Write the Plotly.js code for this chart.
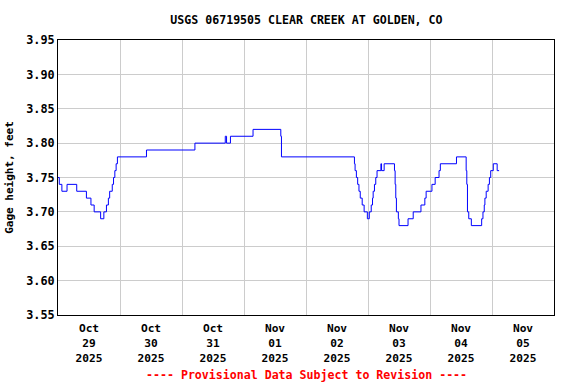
<!DOCTYPE html>
<html>
<head>
<meta charset="utf-8">
<script src="https://cdn.plot.ly/plotly-3.0.1.min.js"></script>
<style>html,body{margin:0;padding:0;background:#fff;}#chart{width:576px;height:384px;}</style>
</head>
<body>
<div id="chart"></div>
<script>
// Gage height readings (step changes), USGS 06719505 Clear Creek at Golden, CO
var times = [
  "2025-10-29 00:00","2025-10-29 00:30","2025-10-29 01:30","2025-10-29 03:30","2025-10-29 07:15",
  "2025-10-29 11:00","2025-10-29 12:45","2025-10-29 14:00","2025-10-29 16:30","2025-10-29 17:45",
  "2025-10-29 18:45","2025-10-29 19:30","2025-10-29 20:00","2025-10-29 21:00","2025-10-29 21:30",
  "2025-10-29 22:00","2025-10-29 22:30","2025-10-29 23:00","2025-10-30 10:15","2025-10-31 05:00",
  "2025-10-31 16:45","2025-10-31 17:15","2025-10-31 18:45","2025-11-01 03:30","2025-11-01 14:15",
  "2025-11-01 14:30","2025-11-02 18:45","2025-11-02 19:00","2025-11-02 19:30","2025-11-02 20:00",
  "2025-11-02 20:30","2025-11-02 21:00","2025-11-02 21:45","2025-11-02 22:30","2025-11-02 23:45",
  "2025-11-03 00:30","2025-11-03 01:15","2025-11-03 01:45","2025-11-03 02:00","2025-11-03 02:30",
  "2025-11-03 03:00","2025-11-03 03:30","2025-11-03 05:00","2025-11-03 05:15","2025-11-03 06:15",
  "2025-11-03 10:15","2025-11-03 10:30","2025-11-03 10:45","2025-11-03 11:00","2025-11-03 11:45",
  "2025-11-03 12:00","2025-11-03 15:30","2025-11-03 17:30","2025-11-03 20:30","2025-11-03 22:00",
  "2025-11-03 22:30","2025-11-04 00:45","2025-11-04 02:00","2025-11-04 03:30","2025-11-04 04:00",
  "2025-11-04 10:15","2025-11-04 14:00","2025-11-04 14:15","2025-11-04 14:30","2025-11-04 15:00",
  "2025-11-04 16:00","2025-11-04 20:00","2025-11-04 20:30","2025-11-04 21:00","2025-11-04 21:15",
  "2025-11-04 21:45","2025-11-04 22:30","2025-11-04 23:00","2025-11-04 23:30","2025-11-05 00:30",
  "2025-11-05 02:00","2025-11-05 02:45"
];
var gageHeight = [
  3.75,3.74,3.73,3.74,3.73,
  3.72,3.71,3.70,3.69,3.70,
  3.71,3.72,3.73,3.74,3.75,
  3.76,3.77,3.78,3.79,3.80,
  3.81,3.80,3.81,3.82,3.81,
  3.78,3.77,3.76,3.75,3.74,
  3.73,3.72,3.71,3.70,3.69,
  3.70,3.71,3.72,3.73,3.74,
  3.75,3.76,3.77,3.76,3.77,
  3.76,3.74,3.72,3.70,3.69,
  3.68,3.69,3.70,3.71,3.72,
  3.73,3.74,3.75,3.76,3.77,
  3.78,3.76,3.74,3.70,3.69,
  3.68,3.69,3.70,3.71,3.72,
  3.73,3.74,3.75,3.76,3.77,
  3.76,3.76
];
var yTickVals = [3.55,3.60,3.65,3.70,3.75,3.80,3.85,3.90,3.95];
var yTickText = ["3.55","3.60","3.65","3.70","3.75","3.80","3.85","3.90","3.95"];
var chartTitle = "USGS 06719505 CLEAR CREEK AT GOLDEN, CO";
var yTitle = "Gage height, feet";
var footer = "---- Provisional Data Subject to Revision ----";

var mono = "DejaVu Sans Mono, Liberation Mono, monospace";

var trace = {
  x: times, y: gageHeight, type: "scatter", mode: "lines",
  line: {color: "#0000ff", width: 1, shape: "hv"},
  hoverinfo: "skip"
};

var layout = {
  width: 576, height: 384,
  margin: {l: 58, r: 22, t: 40, b: 69},
  paper_bgcolor: "#ffffff", plot_bgcolor: "#ffffff",
  showlegend: false,
  font: {family: mono, size: 11, color: "#000"},
  title: {text: chartTitle, font: {family: mono, size: 11.6, weight: "bold", color: "#000"},
          x: 0.532, xanchor: "center", y: 0.949, yref: "container", yanchor: "middle"},
  xaxis: {
    type: "date", range: ["2025-10-29 00:00", "2025-11-06 00:00"],
    tick0: "2025-10-29", dtick: 86400000, ticklabelmode: "period",
    tickformat: "%b<br>%d<br>%Y",
    showgrid: true, gridcolor: "#cccccc", gridwidth: 1,
    showline: true, linecolor: "#000", linewidth: 1, mirror: true,
    ticks: "", zeroline: false, ticklabelstandoff: 3,
    tickfont: {family: mono, size: 11.2, weight: "bold", color: "#000"}
  },
  yaxis: {
    range: [3.55, 3.95], tickvals: yTickVals, ticktext: yTickText,
    showgrid: true, gridcolor: "#cccccc", gridwidth: 1,
    showline: true, linecolor: "#000", linewidth: 1, mirror: true,
    ticks: "", zeroline: false, ticklen: 0,
    tickfont: {family: mono, size: 11.8, weight: "bold", color: "#000"},
    title: {text: yTitle, font: {family: mono, size: 11, weight: "bold", color: "#000"}, standoff: 10}
  },
  annotations: [{
    text: footer, xref: "paper", yref: "paper", x: 0.5, y: -0.218,
    xanchor: "center", yanchor: "middle", showarrow: false,
    font: {family: mono, size: 11.6, weight: "bold", color: "#ff0000"}
  }]
};

Plotly.newPlot("chart", [trace], layout, {displayModeBar: false, staticPlot: true});
</script>
</body>
</html>
